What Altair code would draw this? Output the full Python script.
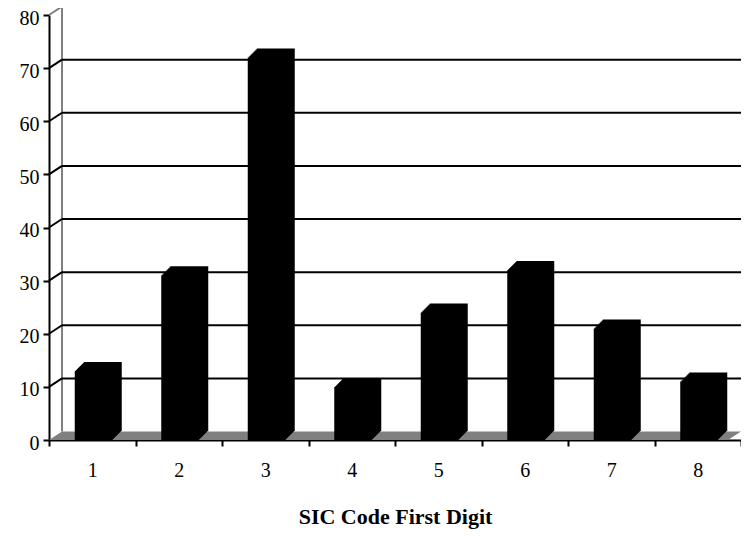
import altair as alt
import pandas as pd

categories = ["1", "2", "3", "4", "5", "6", "7", "8"]
counts = [13, 31, 72, 10, 24, 32, 21, 11]
y_ticks = [0, 10, 20, 30, 40, 50, 60, 70, 80]
x_title = "SIC Code First Digit"

W, H = 692, 425
DX, DY = 13, 8.5     # depth of back wall
BD = 9               # depth of the 3D bars
EXTRA = 0
GRAY = "#808080"
FONT = "Liberation Serif"

bars_df = pd.DataFrame({"code": categories, "count": counts})
grid_df = pd.DataFrame({"v": y_ticks[1:-1]})
top_df = pd.DataFrame({"v": [y_ticks[-1]]})
one_df = pd.DataFrame({"a": [0]})

y_scale = alt.Scale(domain=[0, 80], nice=False)

x_enc = alt.X(
    "code:N", sort=categories,
    scale=alt.Scale(paddingInner=0, paddingOuter=0),
    axis=alt.Axis(
        title=x_title, labelAngle=0, tickBand="extent", tickSize=6, tickWidth=2,
        tickColor="black", domainColor="black", domainWidth=2,
        labelFont=FONT, labelFontSize=20, labelColor="black", labelPadding=14,
        titleFont=FONT, titleFontSize=22, titleFontWeight="bold", titleColor="black",
        titlePadding=26,
    ),
)
y_enc = alt.Y(
    "count:Q", scale=y_scale,
    axis=alt.Axis(
        values=y_ticks, grid=False, title=None, tickSize=6, tickWidth=2,
        tickColor="black", domainColor="black", domainWidth=2,
        labelFont=FONT, labelFontSize=20, labelColor="black", labelPadding=4,
        labelOffset=3,
    ),
)

# floor (parallelogram)
Wf = W + EXTRA
half = Wf / 2
h = (DY / 2) / half
d = DX / half
floor_path = (
    f"M -1 {h:.5f} L {-1 + d:.5f} {-h:.5f} L 1 {-h:.5f} L {1 - d:.5f} {h:.5f} Z"
)
floor = alt.Chart(one_df).mark_point(
    shape=floor_path, filled=True, color=GRAY, opacity=1, strokeWidth=0,
    size=Wf * Wf,
).encode(x=alt.value(half), y=alt.value(H - DY / 2))

# back wall left edge and top edge
wall_left = alt.Chart(one_df).mark_rule(color=GRAY, strokeWidth=2).encode(
    x=alt.value(DX), y=alt.value(-DY), y2=alt.value(H - DY)
)
wall_top = alt.Chart(top_df).mark_rule(color=GRAY, strokeWidth=2, yOffset=-DY).encode(
    y=alt.Y("v:Q", scale=y_scale), x=alt.value(DX), x2=alt.value(W + EXTRA)
)
top_diag = alt.Chart(top_df).mark_rule(
    color=GRAY, strokeWidth=2, yOffset=0, y2Offset=-DY
).encode(
    y=alt.Y("v:Q", scale=y_scale), y2="v:Q", x=alt.value(0), x2=alt.value(DX)
)

# gridlines on back wall, with connectors to the front axis
grid_back = alt.Chart(grid_df).mark_rule(color="black", strokeWidth=2, yOffset=-DY).encode(
    y=alt.Y("v:Q", scale=y_scale), x=alt.value(DX), x2=alt.value(W + EXTRA)
)
grid_diag = alt.Chart(grid_df).mark_rule(
    color="black", strokeWidth=2, yOffset=0, y2Offset=-DY
).encode(
    y=alt.Y("v:Q", scale=y_scale), y2="v:Q", x=alt.value(0), x2=alt.value(DX)
)

# 3D bars: stacked offset copies give the extruded silhouette
bar_layers = []
for k in range(BD, -1, -1):
    bar_layers.append(
        alt.Chart(bars_df).mark_bar(
            width=38, color="black", xOffset=1.5 + k, x2Offset=1.5 + k,
            yOffset=-k, y2Offset=-k,
        ).encode(x=x_enc, y=y_enc)
    )

chart = alt.layer(
    floor, wall_left, wall_top, top_diag, grid_back, grid_diag, *bar_layers
).properties(
    width=W, height=H,
    autosize=alt.AutoSizeParams(type="none"),
    padding={"left": 41, "top": 7, "right": EXTRA, "bottom": 93},
    background="white",
).configure_view(stroke=None)

chart.save("out.html", embed_options={"renderer": "svg", "actions": False})
